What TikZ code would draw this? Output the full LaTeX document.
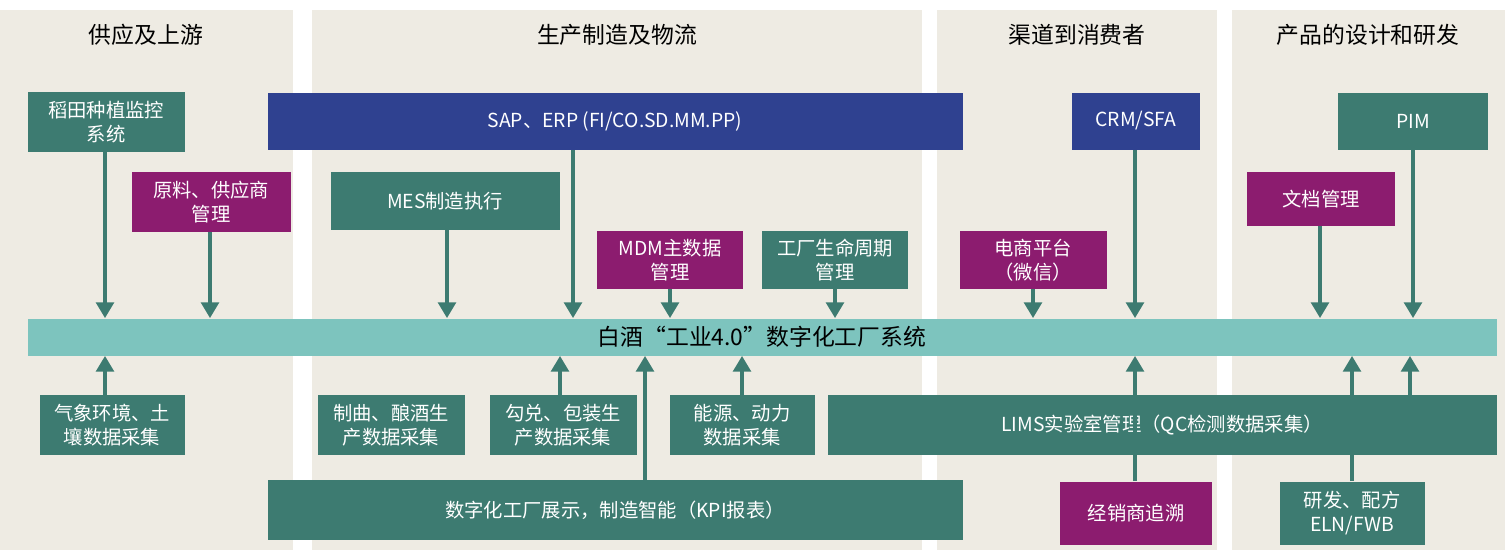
\documentclass[tikz,border=0pt]{standalone}
\usepackage{fontspec}
\newfontfamily\cjk{Noto Sans CJK SC}
\usetikzlibrary{arrows.meta,positioning}
\definecolor{tealbox}{HTML}{3D7B71}
\definecolor{purplebox}{HTML}{8C1C6F}
\definecolor{bluebox}{HTML}{2F4190}
\definecolor{mainbar}{HTML}{7DC4BE}
\definecolor{colbg}{HTML}{EEEBE3}
\definecolor{arrowcol}{HTML}{3D7B71}
\begin{document}
\begin{tikzpicture}[
  x=0.02cm, y=-0.02cm,
  every node/.append style={font=\cjk\fontsize{11}{13.5}\selectfont, align=center, inner sep=1pt},
  box/.style={minimum width=#1*0.02cm, text=white},
  tbox/.style={box=#1, fill=tealbox},
  pbox/.style={box=#1, fill=purplebox},
  bbox/.style={box=#1, fill=bluebox},
  head/.style={font=\cjk\fontsize{13}{15}\selectfont},
  link/.style={draw=arrowcol, line width=2.2pt, -{Triangle[length=9pt,width=10pt]}}
]
\useasboundingbox (0,0) rectangle (1510,558);
\fill[white] (0,0) rectangle (1510,558);

% columns
\foreach \xa/\xb in {0/293, 312/922, 937/1217, 1232/1505}
  \fill[colbg] (\xa,10) rectangle (\xb,550);
\node[head] (h1) at (146,35) {供应及上游};
\node[head] (h2) at (617,35) {生产制造及物流};
\node[head] (h3) at (1077,35) {渠道到消费者};
\node[head] (h4) at (1368,35) {产品的设计和研发};

% top row
\node[tbox=157, minimum height=60*0.02cm] (daotian) at (106,122) {稻田种植监控\\系统};
\node[bbox=695, minimum height=57*0.02cm] (sap) at (615,121) {SAP、ERP (FI/CO.SD.MM.PP)};
\node[bbox=128, minimum height=57*0.02cm] (crm) at (1136,121) {CRM/SFA};
\node[tbox=150, minimum height=57*0.02cm] (pim) at (1413,121) {PIM};
\node[pbox=159, minimum height=60*0.02cm] (yuanliao) at (211,202) {原料、供应商\\管理};
\node[tbox=229, minimum height=58*0.02cm] (mes) at (445,201) {MES制造执行};
\node[pbox=148, minimum height=54*0.02cm] (wendang) at (1321,199) {文档管理};
\node[pbox=146, minimum height=58*0.02cm] (mdm) at (670,260) {MDM主数据\\管理};
\node[tbox=146, minimum height=58*0.02cm] (gongchang) at (835,260) {工厂生命周期\\管理};
\node[pbox=147, minimum height=58*0.02cm] (dianshang) at (1033,260) {电商平台\\（微信）};

% main bar
\node[box=1469, minimum height=37*0.02cm, fill=mainbar, text=black,
      font=\cjk\fontsize{13}{15}\selectfont] (bar) at (762,337) {白酒“工业4.0”数字化工厂系统};

% bottom row
\node[tbox=145, minimum height=60*0.02cm] (qixiang) at (112,425) {气象环境、土\\壤数据采集};
\node[tbox=147, minimum height=60*0.02cm] (zhiqu) at (391,425) {制曲、酿酒生\\产数据采集};
\node[tbox=147, minimum height=60*0.02cm] (goudui) at (563,425) {勾兑、包装生\\产数据采集};
\node[tbox=145, minimum height=60*0.02cm] (nengyuan) at (742,425) {能源、动力\\数据采集};
\node[tbox=669, minimum height=60*0.02cm] (lims) at (1162,425) {LIMS实验室管理（QC检测数据采集）};
\node[tbox=695, minimum height=60*0.02cm] (kpi) at (615,510) {数字化工厂展示，制造智能（KPI报表）};
\node[pbox=152, minimum height=63*0.02cm] (jingxiao) at (1136,513) {经销商追溯};
\node[tbox=145, minimum height=63*0.02cm] (yanfa) at (1352,513) {研发、配方\\ELN/FWB};

% downward links
\foreach \n/\xx in {daotian/105, yuanliao/210, mes/447, sap/573, mdm/670,
                    gongchang/835, dianshang/1033, crm/1135, wendang/1320, pim/1413}
  \draw[link] (\n.south -| \xx,0) -- (bar.north -| \xx,0);

% upward links
\foreach \n/\xx in {qixiang/105, goudui/560, kpi/645, nengyuan/742,
                    jingxiao/1135, yanfa/1352}
  \draw[link] (\n.north -| \xx,0) -- (bar.south -| \xx,0);
\draw[link] (lims.north -| 1410,0) -- (bar.south -| 1410,0);
\end{tikzpicture}
\end{document}
